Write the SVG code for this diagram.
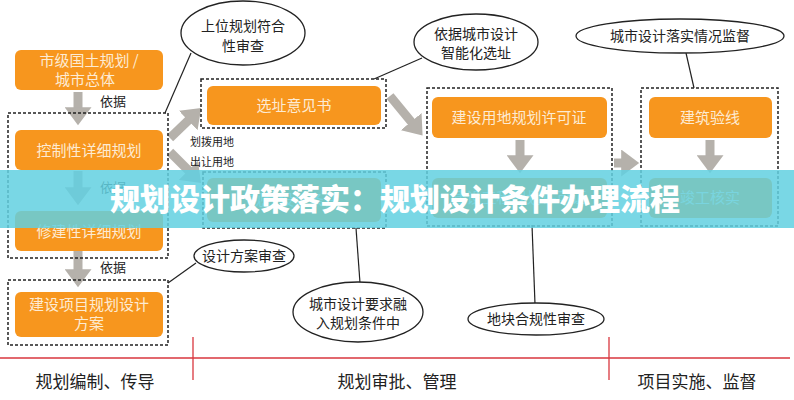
<svg xmlns="http://www.w3.org/2000/svg" width="794" height="400" viewBox="0 0 794 400">
<style>
text{font-family:"Noto Sans CJK SC","Noto Sans",sans-serif}
.ob{fill:#f7961e}
.ot{fill:#fdebd3;font-size:15px;text-anchor:middle}
.dash{fill:none;stroke:#222;stroke-width:1.5;stroke-dasharray:3,2}
.ell{fill:#fff;stroke:#222;stroke-width:1.3}
.et{fill:#222;font-size:14px;text-anchor:middle}
.lbl{fill:#222;font-size:13px}
.sl{fill:#222;font-size:11px}
.ar{stroke:#b5b1ab;stroke-width:9;fill:none;marker-end:url(#ah)}
.ln{stroke:#222;stroke-width:1.2}
.red{stroke:#d9363e;stroke-width:1.3}
.bt{fill:#222;font-size:17px;text-anchor:middle}
</style>
<defs>
<marker id="ah" markerWidth="3" markerHeight="3" refX="1.2" refY="1.5" orient="auto"><path d="M0,0 L2,1.5 L0,3 Z" fill="#b5b1ab"/></marker>
</defs>
<rect width="794" height="400" fill="#fff"/>
<g id="connectors">
<line class="ar" x1="78" y1="92" x2="78" y2="118"/>
<line class="ar" x1="78" y1="171" x2="78" y2="198"/>
<line class="ar" x1="78" y1="251" x2="78" y2="280"/>
<line class="ar" x1="170" y1="138" x2="196" y2="113"/>
<line class="ar" x1="170" y1="152" x2="196" y2="178"/>
<line class="ar" x1="390" y1="96" x2="418" y2="130"/>
<line class="ar" x1="520" y1="140" x2="520" y2="166"/>
<line class="ar" x1="710" y1="140" x2="710" y2="166"/>
<line class="ar" x1="614" y1="163" x2="632" y2="163"/>
<line class="ln" x1="165" y1="113" x2="191" y2="53"/>
<line class="ln" x1="374" y1="79" x2="422" y2="58"/>
<line class="ln" x1="694" y1="88" x2="686" y2="53"/>
<line class="ln" x1="168" y1="283" x2="196" y2="263"/>
<line class="ln" x1="356" y1="228" x2="360" y2="283"/>
<line class="ln" x1="532" y1="225" x2="535" y2="304"/>
</g>
<g id="n1"><rect class="ob" x="15" y="50" width="148" height="40" rx="6"/><text class="ot" x="89" y="66">市级国土规划 /</text><text class="ot" x="85" y="85">城市总体</text></g>
<text class="lbl" x="100" y="106">依据</text>
<rect class="dash" x="8" y="113" width="160" height="145"/>
<g id="n2"><rect class="ob" x="15" y="130" width="148" height="40" rx="6"/><text class="ot" x="89" y="156">控制性详细规划</text></g>
<text class="lbl" x="100" y="192">依据</text>
<g id="n3"><rect class="ob" x="15" y="211" width="148" height="40" rx="6"/><text class="ot" x="89" y="237">修建性详细规划</text></g>
<text class="lbl" x="100" y="272">依据</text>
<rect class="dash" x="8" y="280" width="160" height="65"/>
<g id="n4"><rect class="ob" x="15" y="292" width="148" height="45" rx="6"/><text class="ot" x="89" y="310">建设项目规划设计</text><text class="ot" x="89" y="329">方案</text></g>
<text class="sl" x="190" y="146">划拨用地</text>
<text class="sl" x="190" y="166">出让用地</text>
<rect class="dash" x="201" y="79" width="185" height="49"/>
<g id="n5"><rect class="ob" x="207" y="86" width="174" height="39" rx="6"/><text class="ot" x="294" y="111">选址意见书</text></g>
<rect class="dash" x="203" y="172" width="183" height="56"/>
<g id="n6"><rect class="ob" x="207" y="178" width="174" height="44" rx="6"/><text class="ot" x="294" y="205">规划设计条件</text></g>
<rect class="dash" x="427" y="88" width="185" height="138"/>
<g id="n7"><rect class="ob" x="432" y="97" width="175" height="41" rx="6"/><text class="ot" x="519" y="123">建设用地规划许可证</text></g>
<g id="n8"><rect class="ob" x="432" y="178" width="175" height="40" rx="6"/><text class="ot" x="519" y="203">建设工程规划许可证</text></g>
<rect class="dash" x="641" y="88" width="137" height="138"/>
<g id="n9"><rect class="ob" x="649" y="97" width="123" height="41" rx="6"/><text class="ot" x="710" y="123">建筑验线</text></g>
<g id="n10"><rect class="ob" x="649" y="178" width="123" height="40" rx="6"/><text class="ot" x="710" y="203">竣工核实</text></g>
<g id="e1"><ellipse class="ell" cx="243" cy="33" rx="62" ry="32"/><text class="et" x="243" y="31">上位规划符合</text><text class="et" x="243" y="51">性审查</text></g>
<g id="e2"><ellipse class="ell" cx="476" cy="42" rx="62" ry="28"/><text class="et" x="476" y="39">依据城市设计</text><text class="et" x="476" y="58">智能化选址</text></g>
<g id="e3"><ellipse class="ell" cx="680" cy="36" rx="104" ry="17"/><text class="et" x="680" y="41">城市设计落实情况监督</text></g>
<g id="e4"><ellipse class="ell" cx="244" cy="256" rx="50" ry="16"/><text class="et" x="244" y="261">设计方案审查</text></g>
<g id="e5"><ellipse class="ell" cx="358" cy="312" rx="65" ry="30"/><text class="et" x="358" y="309">城市设计要求融</text><text class="et" x="358" y="328">入规划条件中</text></g>
<g id="e6"><ellipse class="ell" cx="536" cy="319" rx="68" ry="16"/><text class="et" x="536" y="324">地块合规性审查</text></g>
<line class="red" x1="0" y1="358" x2="790" y2="358"/>
<line class="red" x1="193" y1="337" x2="193" y2="380"/>
<line class="red" x1="609" y1="337" x2="609" y2="380"/>
<text class="bt" x="95" y="388">规划编制、传导</text>
<text class="bt" x="397" y="388">规划审批、管理</text>
<text class="bt" x="697" y="388">项目实施、监督</text>
<rect x="0" y="170" width="794" height="58" fill="#62d0e0" opacity="0.85"/>
<text x="395" y="210" fill="#fff" font-size="30" font-weight="900" text-anchor="middle">规划设计政策落实：规划设计条件办理流程</text>
</svg>
